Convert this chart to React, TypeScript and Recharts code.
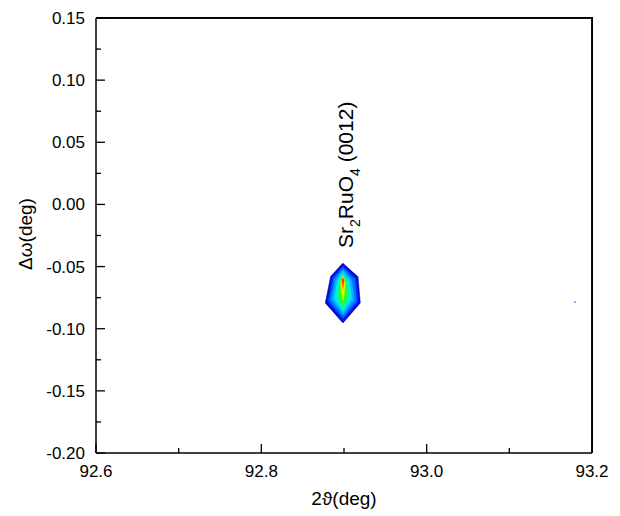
import React from 'react';
import { ScatterChart, Scatter, XAxis, YAxis, ReferenceLine } from 'recharts';

// Axis ranges and ticks
const xDomain = [92.6, 93.2];
const yDomain = [-0.2, 0.15];
const xMajorTicks = [92.6, 92.8, 93.0, 93.2];
const xMinorTicks = [92.7, 92.9, 93.1];
const yMajorTicks = [0.15, 0.1, 0.05, 0.0, -0.05, -0.1, -0.15, -0.2];
const yMinorTicks = [0.125, 0.075, 0.025, -0.025, -0.075, -0.125, -0.175];

// Contour levels (outer -> inner), vertices in (2θ, Δω)
const levelA = [
  { x: 92.8987, y: -0.0471 }, { x: 92.8838, y: -0.0579 }, { x: 92.8774, y: -0.0793 },
  { x: 92.8987, y: -0.0954 }, { x: 92.9197, y: -0.0793 }, { x: 92.9169, y: -0.0579 },
];
const levelB = [
  { x: 92.8987, y: -0.0485 }, { x: 92.885, y: -0.0587 }, { x: 92.8794, y: -0.0788 },
  { x: 92.8987, y: -0.0938 }, { x: 92.9181, y: -0.0788 }, { x: 92.9153, y: -0.0587 },
];
const levelC = [
  { x: 92.8987, y: -0.0503 }, { x: 92.8871, y: -0.0595 }, { x: 92.8818, y: -0.0777 },
  { x: 92.8987, y: -0.0914 }, { x: 92.9157, y: -0.0777 }, { x: 92.9129, y: -0.0595 },
];
const levelD = [
  { x: 92.8987, y: -0.0522 }, { x: 92.8895, y: -0.0605 }, { x: 92.885, y: -0.0766 },
  { x: 92.8987, y: -0.0887 }, { x: 92.9125, y: -0.0766 }, { x: 92.9092, y: -0.0605 },
];
const levelE = [
  { x: 92.8987, y: -0.0541 }, { x: 92.8919, y: -0.0616 }, { x: 92.8883, y: -0.0756 },
  { x: 92.8987, y: -0.0863 }, { x: 92.9092, y: -0.0756 }, { x: 92.9064, y: -0.0616 },
];
const levelF = [
  { x: 92.8987, y: -0.0554 }, { x: 92.8939, y: -0.0624 }, { x: 92.8911, y: -0.0745 },
  { x: 92.8987, y: -0.0841 }, { x: 92.9064, y: -0.0745 }, { x: 92.904, y: -0.0624 },
];
const levelG = [
  { x: 92.8987, y: -0.0565 }, { x: 92.8951, y: -0.0627 }, { x: 92.8935, y: -0.0729 },
  { x: 92.8987, y: -0.0815 }, { x: 92.904, y: -0.0729 }, { x: 92.9028, y: -0.0627 },
];
const levelH = [
  { x: 92.8987, y: -0.0573 }, { x: 92.8959, y: -0.0624 }, { x: 92.8967, y: -0.0699 },
  { x: 92.8987, y: -0.0774 }, { x: 92.9008, y: -0.0699 }, { x: 92.9016, y: -0.0624 },
];
const levelI = [
  { x: 92.8987, y: -0.0579 }, { x: 92.8967, y: -0.0616 }, { x: 92.8987, y: -0.0721 }, { x: 92.9008, y: -0.0616 },
];
const levelJ = [
  { x: 92.8987, y: -0.0584 }, { x: 92.8973, y: -0.0608 }, { x: 92.8987, y: -0.0678 }, { x: 92.9002, y: -0.0608 },
];
const levelK = [
  { x: 92.8987, y: -0.0592 }, { x: 92.8979, y: -0.0608 }, { x: 92.8987, y: -0.0646 }, { x: 92.8996, y: -0.0608 },
];

const levels = [
  { name: 'A', data: levelA, color: '#0000b4' },
  { name: 'B', data: levelB, color: '#0020ff' },
  { name: 'C', data: levelC, color: '#0070ff' },
  { name: 'D', data: levelD, color: '#00b4ff' },
  { name: 'E', data: levelE, color: '#00eaf0' },
  { name: 'F', data: levelF, color: '#00ff90' },
  { name: 'G', data: levelG, color: '#28ff20' },
  { name: 'H', data: levelH, color: '#c8ff00' },
  { name: 'I', data: levelI, color: '#ffe000' },
  { name: 'J', data: levelJ, color: '#ff8000' },
  { name: 'K', data: levelK, color: '#ff1e00' },
];

const strayPoint = [{ x: 93.1794, y: -0.0785 }];
const annotationPoint = [{ x: 92.9109, y: -0.035 }];

// top and right borders of the plot frame (from the axis ranges)
const frameCorners = [
  { x: xDomain[0], y: yDomain[1] },
  { x: xDomain[1], y: yDomain[1] },
  { x: xDomain[1], y: yDomain[0] },
];

const FONT = '"Liberation Sans", Arial, Helvetica, sans-serif';
const allXTicks = [...xMajorTicks, ...xMinorTicks].sort((a, b) => a - b);
const allYTicks = [...yMajorTicks, ...yMinorTicks].sort((a, b) => a - b);
const isIn = (arr: number[], v: number) => arr.some((t) => Math.abs(t - v) < 1e-6);

// chart layout
const CHART_W = 612;
const CHART_H = 508;
const MARGIN = { top: 10, right: 28, bottom: 0, left: 0 };
const Y_AXIS_W = 88;
const X_AXIS_H = 63;

const XTick = (props: any) => {
  const { x, y, payload } = props;
  const major = isIn(xMajorTicks, payload.value);
  return (
    <g>
      <line x1={x} y1={y} x2={x} y2={y - (major ? 9 : 5)} stroke="#000" strokeWidth={1.3} />
      {major && (
        <text x={x} y={y + 24} textAnchor="middle" fontSize={17} fontFamily={FONT} fill="#000">
          {Number(payload.value).toFixed(1)}
        </text>
      )}
    </g>
  );
};

const YTick = (props: any) => {
  const { x, y, payload } = props;
  const major = isIn(yMajorTicks, payload.value);
  return (
    <g>
      <line x1={x} y1={y} x2={x + (major ? 9 : 5)} y2={y} stroke="#000" strokeWidth={1.3} />
      {major && (
        <text x={x - 11} y={y + 6} textAnchor="end" fontSize={17} fontFamily={FONT} fill="#000">
          {Number(payload.value).toFixed(2)}
        </text>
      )}
    </g>
  );
};

const Empty = () => <g />;

const StrayDot = (props: any) => <rect x={props.cx - 1} y={props.cy - 1} width={2} height={2} fill="#9a9aff" />;

const Annotation = (props: any) => {
  const { cx, cy } = props;
  return (
    <text
      x={cx}
      y={cy}
      transform={`rotate(-90, ${cx}, ${cy})`}
      fontSize={21}
      fontFamily={FONT}
      fill="#000"
      textAnchor="start"
    >
      <tspan>Sr</tspan>
      <tspan fontSize={14} dy={7}>2</tspan>
      <tspan dy={-7}>RuO</tspan>
      <tspan fontSize={14} dy={7}>4</tspan>
      <tspan dy={-7}>{' (0012)'}</tspan>
    </text>
  );
};

const XLabel = (p: any) => {
  const vb = p.viewBox || { x: 88, y: 445, width: 496, height: 63 };
  return (
    <text x={vb.x + vb.width / 2} y={vb.y + 52} textAnchor="middle" fontSize={19} fontFamily={FONT} fill="#000">
      2ϑ(deg)
    </text>
  );
};

const YLabel = () => (
  <text x={24} y={226} transform="rotate(-90, 24, 226)" textAnchor="middle" fontSize={19} fontFamily={FONT} fill="#000">
    Δω(deg)
  </text>
);

export default function App() {
  const plotLeft = MARGIN.left + Y_AXIS_W;
  const plotTop = MARGIN.top;
  const plotW = CHART_W - MARGIN.left - MARGIN.right - Y_AXIS_W;
  const plotH = CHART_H - MARGIN.top - MARGIN.bottom - X_AXIS_H;
  return (
    <div style={{ position: 'relative', width: CHART_W, height: CHART_H }}>
      <ScatterChart width={CHART_W} height={CHART_H} margin={MARGIN}>
        <XAxis
          type="number"
          dataKey="x"
          domain={xDomain}
          ticks={allXTicks}
          interval={0}
          height={X_AXIS_H}
          tickSize={0}
          tickMargin={0}
          tickLine={false}
          tick={<XTick />}
          axisLine={{ stroke: '#000', strokeWidth: 1.5 }}
          label={{ content: XLabel }}
        />
        <YAxis
          type="number"
          dataKey="y"
          domain={yDomain}
          ticks={allYTicks}
          interval={0}
          width={Y_AXIS_W}
          tickSize={0}
          tickMargin={0}
          tickLine={false}
          tick={<YTick />}
          axisLine={{ stroke: '#000', strokeWidth: 1.5 }}
          label={{ content: YLabel }}
        />
        <ReferenceLine y={yDomain[1]} stroke="#000" strokeWidth={1.5} />
        <ReferenceLine x={xDomain[1]} stroke="#000" strokeWidth={1.5} />
        {levels.map((lv) => (
          <Scatter
            key={lv.name}
            name={lv.name}
            data={lv.data}
            fill={lv.color}
            line={{ fill: lv.color, stroke: lv.color, strokeWidth: 0.5 }}
            lineType="joint"
            shape={<Empty />}
            isAnimationActive={false}
          />
        ))}
        <Scatter name="stray" data={strayPoint} fill="#9a9aff" shape={<StrayDot />} isAnimationActive={false} />
        <Scatter name="label" data={annotationPoint} fill="#000" shape={<Annotation />} isAnimationActive={false} />
        <Scatter
          name="frame"
          data={frameCorners}
          fill="#000"
          line={{ stroke: '#000', strokeWidth: 1.5, fill: 'none' }}
          lineType="joint"
          shape={<Empty />}
          isAnimationActive={false}
        />
      </ScatterChart>
      <div
        style={{
          position: 'absolute',
          left: plotLeft,
          top: plotTop - 0.75,
          width: plotW + 0.75,
          height: plotH + 0.75,
          borderTop: '1.5px solid #000',
          borderRight: '1.5px solid #000',
          boxSizing: 'border-box',
          pointerEvents: 'none',
        }}
      />
    </div>
  );
}
